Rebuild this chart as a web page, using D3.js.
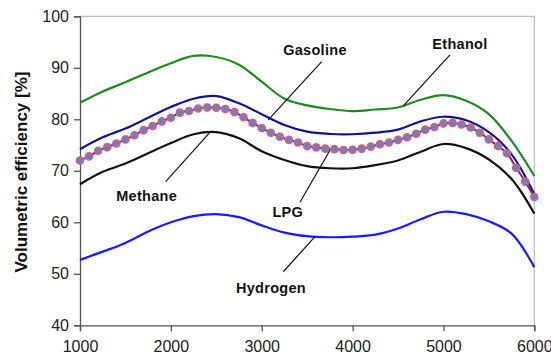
<!DOCTYPE html>
<html lang="en">
<head>
    <meta charset="UTF-8">
    <title>Volumetric efficiency vs engine speed</title>
    <script src="https://d3js.org/d3.v7.min.js"></script>
    <style>
        body { margin: 0; background: #fff; }
        svg { display: block; font-family: "Liberation Sans", Arial, sans-serif; }
        .tick text { font-size: 16px; fill: #222; }
        .label { font-size: 14.5px; font-weight: bold; fill: #111; }
    </style>
</head>
<body>
<div id="chart"></div>
<script>
    // engine speed (rpm) for the smooth curves
    const rpm = [1000, 1250, 1500, 1750, 2000, 2250, 2500, 2750, 3000, 3250, 3500,
                 3750, 4000, 4250, 4500, 4750, 5000, 5250, 5500, 5750, 6000];

    const ethanol  = [83.2, 85.4, 87.2, 89.1, 90.9, 92.3, 92.1, 90.6, 87.3, 84.0, 82.7,
                      82.0, 81.6, 81.9, 82.3, 83.8, 84.7, 83.6, 81.0, 75.8, 69.0];
    const gasoline = [74.2, 76.5, 78.2, 80.3, 82.4, 84.0, 84.5, 83.1, 81.0, 78.9, 77.6,
                      77.15, 77.1, 77.4, 78.0, 79.6, 80.5, 79.8, 77.5, 73.2, 65.5];
    const methane  = [67.4, 69.8, 71.4, 73.4, 75.4, 77.1, 77.5, 76.3, 73.8, 72.1, 70.9,
                      70.5, 70.5, 71.1, 72.0, 73.7, 75.2, 74.4, 72.2, 68.4, 61.7];
    const hydrogen = [52.7, 54.3, 56.0, 58.2, 60.0, 61.2, 61.6, 61.0, 59.4, 58.0, 57.3,
                      57.1, 57.2, 57.6, 58.8, 60.6, 62.05, 61.6, 60.2, 57.8, 51.3];

    // LPG is plotted with markers every 100 rpm
    const rpmLpg = d3.range(1000, 6001, 100);
    const lpg = [72.0, 72.8, 73.9, 74.6, 75.3, 76.1, 76.9, 77.9, 78.7, 79.6,
                 80.3, 81.3, 81.6, 82.1, 82.3, 82.25, 82.0, 81.4, 80.4, 79.3,
                 78.3, 77.4, 76.6, 76.0, 75.5, 74.8, 74.55, 74.3, 74.2, 74.05,
                 74.1, 74.3, 74.7, 75.15, 75.5, 76.0, 76.5, 77.2, 78.0, 78.5,
                 79.2, 79.3, 79.0, 78.4, 77.4, 76.1, 74.8, 73.4, 70.6, 67.9, 64.9];

    const xTicks = [1000, 2000, 3000, 4000, 5000, 6000];
    const yTicks = [40, 50, 60, 70, 80, 90, 100];

    // callout labels: text position and leader line [from, to] in data units
    const labels = [
        { text: "Gasoline", x: 3586, y: 92.4, line: [[3660, 91.2], [3072, 79.9]] },
        { text: "Ethanol",  x: 5182, y: 93.7, line: [[5072, 92.5], [4558, 82.6]] },
        { text: "Methane",  x: 1734, y: 64.2, line: [[1943, 67.9], [2427, 77.4]] },
        { text: "LPG",      x: 3287, y: 61.0, line: [[3421, 63.9], [3751, 74.0]] },
        { text: "Hydrogen", x: 3102, y: 46.2, line: [[3237, 50.4], [3586, 57.2]] }
    ];

    const width = 551, height = 358;
    const margin = { top: 16.3, right: 16.7, bottom: 32.7, left: 80 };

    const svg = d3.select("#chart").append("svg")
        .attr("width", width)
        .attr("height", height);

    const x = d3.scaleLinear().domain([1000, 6000]).range([margin.left, width - margin.right]);
    const y = d3.scaleLinear().domain([40, 100]).range([height - margin.bottom, margin.top]);

    // light frame on top and right
    svg.append("path")
        .attr("d", `M${x(1000)},${y(100)}H${x(6000)}V${y(40)}`)
        .attr("fill", "none")
        .attr("stroke", "#bdbdbd")
        .attr("stroke-width", 1.2);

    const xAxis = svg.append("g")
        .attr("transform", `translate(0,${y(40)})`)
        .call(d3.axisBottom(x).tickValues(xTicks).tickSize(6).tickPadding(9).tickFormat(d3.format("d")));
    const yAxis = svg.append("g")
        .attr("transform", `translate(${x(1000)},0)`)
        .call(d3.axisLeft(y).tickValues(yTicks).tickSize(6).tickPadding(5));

    [xAxis, yAxis].forEach(g => {
        g.select(".domain").attr("stroke", "#555").attr("stroke-width", 1.3);
        g.selectAll(".tick line").attr("stroke", "#555").attr("stroke-width", 1.3);
        g.selectAll(".tick text").attr("font-family", null).attr("font-size", null);
    });

    svg.append("text")
        .attr("transform", `translate(27,172) rotate(-90)`)
        .attr("text-anchor", "middle")
        .attr("font-size", 17)
        .attr("font-weight", "bold")
        .attr("fill", "#111")
        .text("Volumetric efficiency [%]");

    const line = d3.line()
        .x(d => x(d[0]))
        .y(d => y(d[1]))
        .curve(d3.curveCatmullRom);

    const series = [
        { values: ethanol,  color: "#1f8a1f" },
        { values: methane,  color: "#111111" },
        { values: hydrogen, color: "#1a1aff" }
    ];

    series.forEach(s => {
        svg.append("path")
            .datum(rpm.map((r, i) => [r, s.values[i]]))
            .attr("d", line)
            .attr("fill", "none")
            .attr("stroke", s.color)
            .attr("stroke-width", 2.2);
    });

    // gasoline under the LPG markers
    svg.append("path")
        .datum(rpm.map((r, i) => [r, gasoline[i]]))
        .attr("d", line)
        .attr("fill", "none")
        .attr("stroke", "#14148a")
        .attr("stroke-width", 2.2);

    const lpgData = rpmLpg.map((r, i) => [r, lpg[i]]);
    svg.append("path")
        .datum(lpgData)
        .attr("d", line)
        .attr("fill", "none")
        .attr("stroke", "#8a1a8a")
        .attr("stroke-width", 2);

    svg.append("g").selectAll("circle")
        .data(lpgData)
        .join("circle")
        .attr("cx", d => x(d[0]))
        .attr("cy", d => y(d[1]))
        .attr("r", 3.6)
        .attr("fill", "#5a8ac6")
        .attr("stroke", "#f2506a")
        .attr("stroke-width", 1.4);

    // callouts
    const ann = svg.append("g");
    ann.selectAll("line")
        .data(labels)
        .join("line")
        .attr("x1", d => x(d.line[0][0]))
        .attr("y1", d => y(d.line[0][1]))
        .attr("x2", d => x(d.line[1][0]))
        .attr("y2", d => y(d.line[1][1]))
        .attr("stroke", "#111")
        .attr("stroke-width", 1.2);
    ann.selectAll("text")
        .data(labels)
        .join("text")
        .attr("class", "label")
        .attr("x", d => x(d.x))
        .attr("y", d => y(d.y))
        .attr("text-anchor", "middle")
        .attr("letter-spacing", 0.3)
        .text(d => d.text);
</script>
</body>
</html>
